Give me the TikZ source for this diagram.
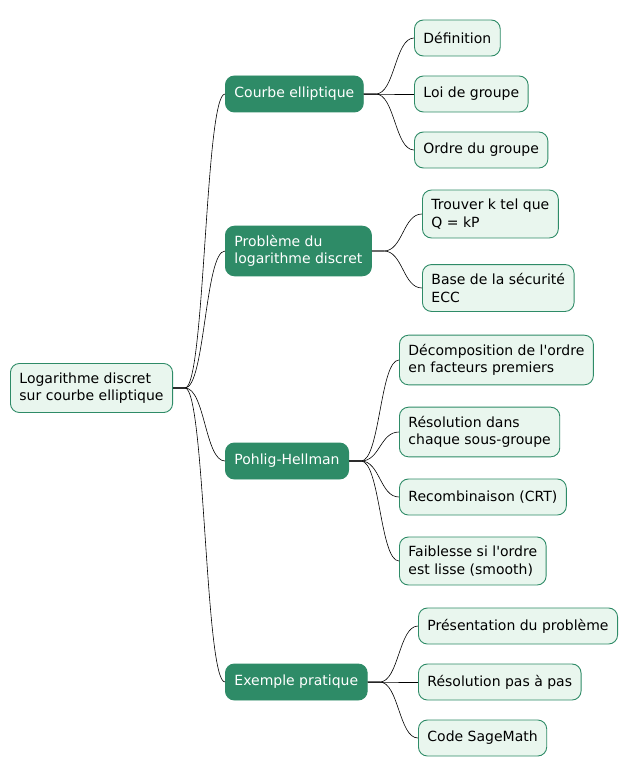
\documentclass[tikz,border=0pt]{standalone}
\usepackage{fontspec}
\setmainfont{DejaVu Sans}
\usetikzlibrary{calc}
\definecolor{dg}{HTML}{2E8B67}
\definecolor{lf}{HTML}{E9F6EE}
\begin{document}
\begin{tikzpicture}[x=1pt,y=-1pt,font=\fontsize{14}{17.5}\selectfont,
 base/.style={anchor=west,rounded corners=9pt,inner xsep=9pt,inner ysep=9pt,minimum height=36pt,align=left,line width=0.9pt},
 leaf/.style={base,draw=dg,fill=lf,text=black},
 mid/.style={base,draw=dg,fill=dg,text=white},
 con/.style={draw=black,line width=0.6pt}]
\useasboundingbox (0,0) rectangle (631,778);
\node[leaf] (r) at (10,388) {Logarithme discret\\sur courbe elliptique};
\node[mid] (a) at (225,94) {Courbe elliptique};
\node[mid] (b) at (225,251) {Problème du\\logarithme discret};
\node[mid] (c) at (225,461) {Pohlig-Hellman};
\node[mid] (d) at (225,682) {Exemple pratique};
\node[leaf] (a1) at (414,38) {Définition};
\node[leaf] (a2) at (414,94) {Loi de groupe};
\node[leaf] (a3) at (414,150) {Ordre du groupe};
\node[leaf] (b1) at (422,214) {Trouver k tel que\\Q = kP};
\node[leaf] (b2) at (422,288) {Base de la sécurité\\ECC};
\node[leaf] (c1) at (399,360) {Décomposition de l\textquotesingle ordre\\en facteurs premiers};
\node[leaf] (c2) at (399,432) {Résolution dans\\chaque sous-groupe};
\node[leaf] (c3) at (399,497) {Recombinaison (CRT)};
\node[leaf] (c4) at (399,561) {Faiblesse si l\textquotesingle ordre\\est lisse (smooth)};
\node[leaf] (d1) at (418,626) {Présentation du problème};
\node[leaf] (d2) at (418,682) {Résolution pas à pas};
\node[leaf] (d3) at (418,738) {Code SageMath};
\foreach \p/\c in {r/a,r/b,r/c,r/d,a/a1,a/a2,a/a3,b/b1,b/b2,c/c1,c/c2,c/c3,c/c4,d/d1,d/d2,d/d3}{
 \path[con] (\p.east) -- ++(12,0) coordinate (s) .. controls ($(s)!0.5!(\c.west|-s)$) and ($(\c.west)!0.5!(s|-\c.west)$) .. (\c.west);
}
\end{tikzpicture}
\end{document}
